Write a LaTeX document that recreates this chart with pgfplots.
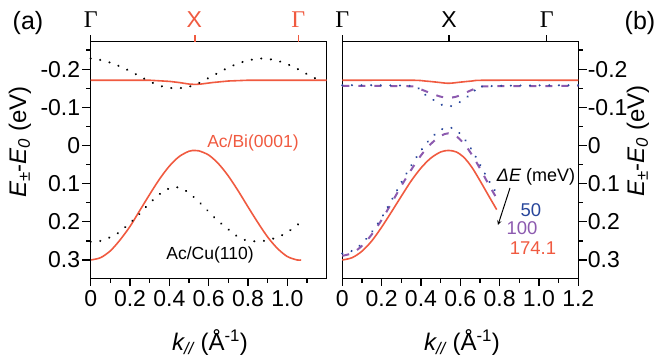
\documentclass[border=0pt]{standalone}
\usepackage{fontspec}
\setmainfont{Liberation Sans}
\newfontfamily\grk{Liberation Serif}
\usepackage{pgfplots}
\pgfplotsset{compat=1.18}
\definecolor{cred}{RGB}{240,90,64}
\definecolor{cblue}{RGB}{40,70,155}
\definecolor{cpurp}{RGB}{140,90,175}
\tikzset{tk/.style={line width=1.3pt, black}}
\pgfplotsset{
 myax/.style={scale only axis, width=236pt, height=236.6pt,
  xmin=0, xmax=1.2, ymin=-0.348, ymax=0.272,
  y filter/.code={\pgfmathparse{-1*\pgfmathresult}},
  axis line style={line width=1.5pt},
  tick style={draw=none},
  ytick={-0.3,-0.2,-0.1,0,0.1,0.2}, yticklabels={0.3,0.2,0.1,0,-0.1,-0.2},
  minor ytick={-0.25,-0.15,-0.05,0.05,0.15,0.25},
  minor xtick={0.1,0.3,0.5,0.7,0.9,1.1},
  xticklabel style={font=\fontsize{23}{26}\selectfont, yshift=-9pt},
  clip=false},
 dotk/.style={black, line width=2.3pt, line cap=round, dash pattern=on 0.01pt off 9.6pt},
 dotb/.style={cblue, line width=2.3pt, line cap=round, dash pattern=on 0.01pt off 9.6pt},
 dashp/.style={cpurp, line width=2pt, dash pattern=on 7pt off 9pt},
 redl/.style={cred, line width=1.6pt},
}
\begin{document}
\begin{tikzpicture}
\path[use as bounding box] (0pt,0pt) rectangle (657pt,358pt);
% ---------- panel (a)
\begin{axis}[myax, at={(90.7pt,79.7pt)}, anchor=south west,
  xtick pos=left, ytick pos=left,
  yticklabel style={font=\fontsize{23}{26}\selectfont, xshift=-7pt},
  xtick={0,0.2,0.4,0.6,0.8,1.0}, xticklabels={0,0.2,0.4,0.6,0.8,1.0}]
\addplot[redl] coordinates {(0,-0.171)(0.3,-0.171)(0.4,-0.168)(0.45,-0.165)(0.5,-0.161)(0.53,-0.160)(0.56,-0.161)(0.62,-0.165)(0.7,-0.169)(0.8,-0.171)(1.2,-0.171)};
\addplot[redl, smooth] coordinates {(0,0.300)(0.05,0.294)(0.10,0.276)(0.15,0.247)(0.20,0.212)(0.25,0.170)(0.30,0.128)(0.35,0.088)(0.40,0.054)(0.45,0.029)(0.50,0.015)(0.53,0.013)(0.55,0.014)(0.60,0.025)(0.65,0.048)(0.70,0.080)(0.75,0.119)(0.80,0.161)(0.85,0.202)(0.90,0.240)(0.95,0.270)(1.00,0.291)(1.05,0.300)(1.07,0.300)};
\addplot[dotk, smooth] coordinates {(0,-0.228)(0.05,-0.224)(0.10,-0.217)(0.15,-0.207)(0.20,-0.195)(0.25,-0.181)(0.30,-0.168)(0.35,-0.157)(0.40,-0.151)(0.44,-0.150)(0.48,-0.152)(0.52,-0.157)(0.56,-0.166)(0.60,-0.177)(0.65,-0.191)(0.70,-0.204)(0.75,-0.215)(0.80,-0.223)(0.86,-0.228)(0.90,-0.227)(0.95,-0.222)(1.00,-0.213)(1.05,-0.201)(1.10,-0.187)(1.15,-0.174)(1.17,-0.170)};
\addplot[dotk, smooth] coordinates {(0,0.252)(0.05,0.250)(0.10,0.240)(0.144,0.228)(0.186,0.209)(0.234,0.187)(0.279,0.162)(0.325,0.139)(0.372,0.119)(0.423,0.109)(0.465,0.113)(0.508,0.128)(0.553,0.149)(0.601,0.174)(0.646,0.197)(0.694,0.217)(0.736,0.235)(0.787,0.248)(0.83,0.251)(0.88,0.250)(0.922,0.245)(0.973,0.235)(1.015,0.222)(1.066,0.202)};
\coordinate (ta1) at (axis cs:0,0.272);
\coordinate (ta2) at (axis cs:0.53,0.272);
\coordinate (ta3) at (axis cs:1.057,0.272);
\end{axis}
% ---------- panel (b)
\begin{axis}[myax, at={(342.3pt,79.7pt)}, anchor=south west,
  xtick pos=left, ytick pos=right,
  yticklabel style={font=\fontsize{23}{26}\selectfont, xshift=6pt},
  xtick={0,0.2,0.4,0.6,0.8,1.0,1.2}, xticklabels={0,0.2,0.4,0.6,0.8,1.0,1.2}]
\addplot[redl, smooth] coordinates {(0,-0.171)(0.35,-0.171)(0.42,-0.169)(0.48,-0.166)(0.54,-0.163)(0.60,-0.166)(0.66,-0.169)(0.73,-0.171)(1.2,-0.171)};
\addplot[dashp, smooth] coordinates {(0,-0.156)(0.35,-0.155)(0.40,-0.147)(0.45,-0.137)(0.50,-0.128)(0.54,-0.125)(0.58,-0.128)(0.63,-0.139)(0.68,-0.150)(0.73,-0.155)(1.2,-0.156)};
\addplot[dotb, smooth] coordinates {(0,-0.158)(0.35,-0.156)(0.40,-0.140)(0.45,-0.124)(0.50,-0.108)(0.54,-0.102)(0.58,-0.108)(0.62,-0.122)(0.67,-0.140)(0.72,-0.155)(1.2,-0.158)};
\addplot[redl, smooth] coordinates {(0,0.300)(0.05,0.294)(0.10,0.277)(0.15,0.250)(0.20,0.214)(0.25,0.174)(0.30,0.133)(0.35,0.093)(0.40,0.059)(0.45,0.033)(0.50,0.017)(0.54,0.013)(0.58,0.017)(0.62,0.032)(0.66,0.058)(0.70,0.092)(0.74,0.128)(0.785,0.168)};
\addplot[dashp, smooth] coordinates {(0,0.289)(0.05,0.282)(0.10,0.263)(0.15,0.233)(0.20,0.195)(0.25,0.151)(0.30,0.106)(0.35,0.064)(0.40,0.026)(0.45,-0.004)(0.50,-0.025)(0.54,-0.032)(0.58,-0.024)(0.62,-0.004)(0.66,0.025)(0.70,0.060)(0.74,0.098)(0.79,0.143)};
\addplot[dotb, smooth] coordinates {(0,0.283)(0.05,0.276)(0.10,0.257)(0.15,0.227)(0.20,0.189)(0.25,0.144)(0.30,0.097)(0.35,0.053)(0.40,0.013)(0.45,-0.019)(0.50,-0.041)(0.54,-0.048)(0.58,-0.040)(0.62,-0.018)(0.66,0.013)(0.70,0.050)(0.74,0.088)(0.79,0.130)};
\coordinate (tb1) at (axis cs:0,0.272);
\coordinate (tb2) at (axis cs:0.543,0.272);
\coordinate (tb3) at (axis cs:1.04,0.272);
\end{axis}
% axis ticks (drawn outside the axes, at the axes' own tick positions)
\foreach \k in {0,0.2,0.4,0.6,0.8,1.0} {\draw[tk] ({(90.7+196.667*\k)*1pt},79.7pt) -- ++(0pt,-8pt);}
\foreach \k in {0.1,0.3,0.5,0.7,0.9,1.1} {\draw[tk] ({(90.7+196.667*\k)*1pt},79.7pt) -- ++(0pt,-4.5pt);}
\foreach \v in {-0.3,-0.2,-0.1,0,0.1,0.2} {\draw[tk] (90.7pt,{(79.7+381.6*(\v+0.348))*1pt}) -- ++(-9pt,0pt);}
\foreach \v in {-0.25,-0.15,-0.05,0.05,0.15,0.25} {\draw[tk] (90.7pt,{(79.7+381.6*(\v+0.348))*1pt}) -- ++(-5pt,0pt);}
\foreach \k in {0,0.2,0.4,0.6,0.8,1.0,1.2} {\draw[tk] ({(342.3+196.667*\k)*1pt},79.7pt) -- ++(0pt,-8pt);}
\foreach \k in {0.1,0.3,0.5,0.7,0.9,1.1} {\draw[tk] ({(342.3+196.667*\k)*1pt},79.7pt) -- ++(0pt,-4.5pt);}
\foreach \v in {-0.3,-0.2,-0.1,0,0.1,0.2} {\draw[tk] (578.3pt,{(79.7+381.6*(\v+0.348))*1pt}) -- ++(9pt,0pt);}
\foreach \v in {-0.25,-0.15,-0.05,0.05,0.15,0.25} {\draw[tk] (578.3pt,{(79.7+381.6*(\v+0.348))*1pt}) -- ++(5pt,0pt);}
% top ticks
\draw[line width=1.3pt] (ta1) -- ++(0pt,7pt);
\draw[line width=1.3pt, cred] (ta2) -- ++(0pt,7pt);
\draw[line width=1.3pt, cred] (ta3) -- ++(0pt,7pt);
\draw[line width=1.3pt] (tb1) -- ++(0pt,7pt);
\draw[line width=1.3pt] (tb2) -- ++(0pt,7pt);
\draw[line width=1.3pt] (tb3) -- ++(0pt,7pt);
% ---------- labels
\node[font=\fontsize{25}{28}\selectfont] at (28pt,335pt) {(a)};
\node[font=\fontsize{25}{28}\selectfont] at (640pt,335pt) {(b)};
\node[font=\grk\fontsize{24}{26}\selectfont] at (90.7pt,338pt) {Γ};
\node[font=\fontsize{23}{26}\selectfont, text=cred] at (194.3pt,338pt) {X};
\node[font=\grk\fontsize{24}{26}\selectfont, text=cred] at (298.3pt,338pt) {Γ};
\node[font=\grk\fontsize{24}{26}\selectfont] at (342.3pt,338pt) {Γ};
\node[font=\fontsize{23}{26}\selectfont] at (449pt,338pt) {X};
\node[font=\grk\fontsize{24}{26}\selectfont] at (546.7pt,338pt) {Γ};
\node[font=\fontsize{24}{26}\selectfont, rotate=90] at (20pt,216pt) {{\itshape E}\textsubscript{±}-{\itshape E}\textsubscript{\itshape 0} (eV)};
\node[font=\fontsize{24}{26}\selectfont, rotate=90] at (638pt,217pt) {{\itshape E}\textsubscript{±}-{\itshape E}\textsubscript{\itshape 0} (eV)};
\node[font=\fontsize{24}{26}\selectfont] at (210pt,15pt) {{\itshape k}\textsubscript{\itshape //} (Å\textsuperscript{-1})};
\node[font=\fontsize{24}{26}\selectfont] at (462pt,15pt) {{\itshape k}\textsubscript{\itshape //} (Å\textsuperscript{-1})};
\node[font=\fontsize{17.5}{20}\selectfont, text=cred] at (253pt,215pt) {Ac/Bi(0001)};
\node[font=\fontsize{17.5}{20}\selectfont] at (210pt,103pt) {Ac/Cu(110)};
\node[font=\fontsize{18}{20}\selectfont] at (536pt,181pt) {{\itshape ΔE} (meV)};
\draw[-stealth, line width=1pt] (510pt,170pt) -- (498pt,133pt);
\node[font=\fontsize{18.5}{20}\selectfont, text=cblue] at (531pt,148pt) {50};
\node[font=\fontsize{18.5}{20}\selectfont, text=cpurp] at (522pt,129.7pt) {100};
\node[font=\fontsize{18.5}{20}\selectfont, text=cred] at (533pt,109.7pt) {174.1};
\end{tikzpicture}
\end{document}
